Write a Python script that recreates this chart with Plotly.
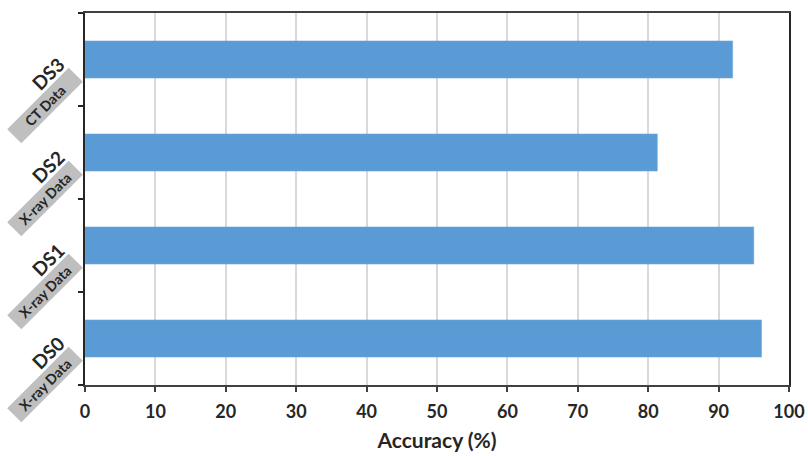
import plotly.graph_objects as go

categories = ["DS0", "DS1", "DS2", "DS3"]
sublabels = ["X-ray Data", "X-ray Data", "X-ray Data", "CT Data"]
accuracy = [96.1, 95.0, 81.3, 92.0]
x_ticks = [0, 10, 20, 30, 40, 50, 60, 70, 80, 90, 100]

FONT = "Lato"
TXT = "#262626"

fig = go.Figure(go.Bar(
    y=categories, x=accuracy, orientation="h",
    marker=dict(color="#5b9bd5", line=dict(color="#6fa8dc", width=0.5)),
))

annotations = []
for cat, sub in zip(categories, sublabels):
    annotations.append(dict(
        xref="paper", yref="y", x=0, y=cat, text=cat, showarrow=False,
        textangle=-45, xanchor="center", yanchor="middle",
        xshift=-37, yshift=-14,
        font=dict(family=FONT, size=19, color=TXT, weight="bold"),
    ))
    annotations.append(dict(
        xref="paper", yref="y", x=0, y=cat, text=sub, showarrow=False,
        textangle=-45, xanchor="center", yanchor="middle",
        xshift=-40, yshift=-46, bgcolor="#bfbfbf",
        width=86, height=19, borderpad=0,
        font=dict(family=FONT, size=14, color=TXT, weight="bold"),
    ))

fig.update_layout(
    width=808, height=456,
    margin=dict(l=85, r=19, t=13, b=71, autoexpand=False),
    paper_bgcolor="white", plot_bgcolor="white",
    bargap=0.6, showlegend=False,
    annotations=annotations,
    xaxis=dict(
        range=[0, 100], tickvals=x_ticks, ticktext=[str(v) for v in x_ticks],
        automargin=False,
        showgrid=True, gridcolor="#d9d9d9", gridwidth=1.5,
        showline=True, linecolor="#404040", linewidth=1.5, mirror=True,
        ticks="outside", ticklen=5, tickcolor="#404040", tickwidth=1.5,
        ticklabelstandoff=5,
        zeroline=False,
        tickfont=dict(family=FONT, size=18, color=TXT, weight="bold"),
        title=dict(text="Accuracy (%)", standoff=12,
                   font=dict(family=FONT, size=21, color=TXT, weight="bold")),
    ),
    yaxis=dict(
        range=[-0.5, 3.5], automargin=False,
        showticklabels=False, showgrid=False,
        showline=True, linecolor="#262626", linewidth=1.5, mirror=True,
        ticks="outside", tickson="boundaries", ticklen=5,
        tickcolor="#262626", tickwidth=1.5,
    ),
)

fig.write_html(
    "out.html",
    config={"displayModeBar": False},
    post_script="document.body.style.margin='0';document.body.style.overflow='hidden';",
)
